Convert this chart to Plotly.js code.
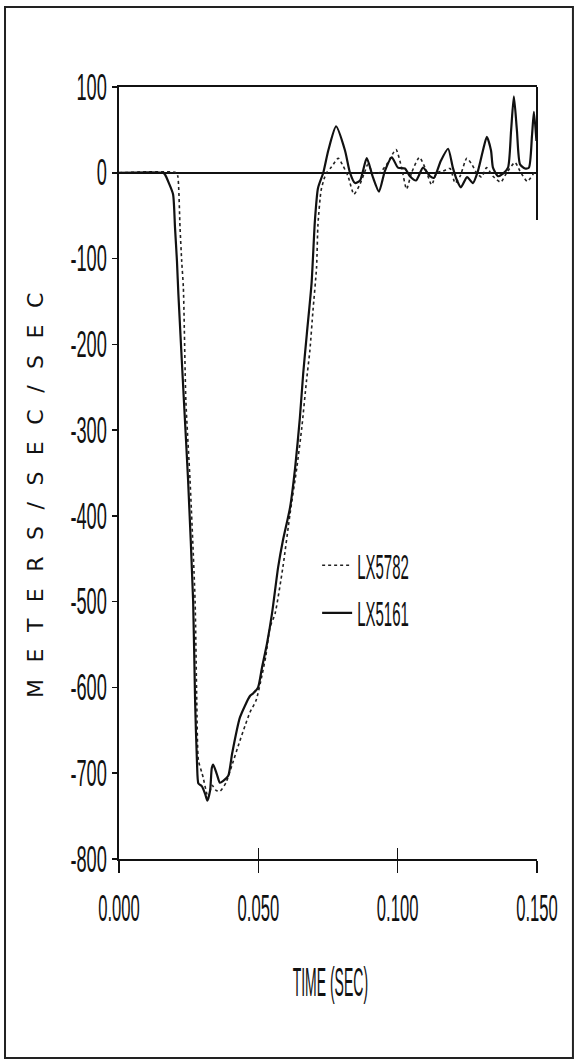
<!DOCTYPE html>
<html>
<head>
<meta charset="utf-8">
<script src="https://cdn.plot.ly/plotly-3.0.1.min.js"></script>
<style>
html,body{margin:0;padding:0;background:#fff;}
#chart{width:576px;height:1062px;}
</style>
</head>
<body>
<div id="chart"></div>
<script>
// LX5782 (dotted)
var t5782 = [0, 0.0205, 0.0211, 0.0219, 0.0225, 0.0231, 0.0240, 0.0255, 0.0273, 0.0279,
  0.0285, 0.0297, 0.0302, 0.0315, 0.0320, 0.0334, 0.0348, 0.0362, 0.0384, 0.0405,
  0.0434, 0.0452, 0.0470, 0.0492, 0.0513, 0.0527, 0.0542, 0.0560, 0.0588, 0.0614,
  0.0638, 0.0656, 0.0673, 0.0685, 0.0696, 0.0709, 0.0714, 0.0725, 0.0736, 0.0745,
  0.0763, 0.0787, 0.0804, 0.0822, 0.0843, 0.0865, 0.0883, 0.0893, 0.0911, 0.0936,
  0.0961, 0.0994, 0.1014, 0.1032, 0.1050, 0.1078, 0.1098, 0.1122, 0.1140, 0.1163,
  0.1188, 0.1206, 0.1224, 0.1248, 0.1266, 0.1283, 0.1301, 0.1319, 0.1342, 0.1370,
  0.1391, 0.1421, 0.1439, 0.1465, 0.1493];
var a5782 = [0, 0, -4, -64, -103, -134, -266, -359, -499, -615,
  -685, -699, -705, -724, -728, -714, -720, -721, -711, -691,
  -662, -645, -629, -615, -586, -563, -530, -514, -460, -397,
  -344, -297, -242, -207, -161, -110, -60, -21, -7, 0,
  7, 17, 8, -4, -25, -13, 2, 10, 0, 0,
  10, 27, 6, -19, 0, 18, 6, -14, 0, 2,
  5, -12, -4, 17, 10, 0, -5, 6, -4, -11,
  0, 12, 2, -10, 2];

// LX5161 (solid)
var t5161 = [0, 0.0158, 0.0165, 0.0179, 0.0194, 0.0201, 0.0208, 0.0213, 0.0233,
  0.0248, 0.0266, 0.0273, 0.0280, 0.0285, 0.0297, 0.0309, 0.0317, 0.0327, 0.0333,
  0.0338, 0.0351, 0.0362, 0.0374, 0.0392, 0.0406, 0.0434, 0.0470, 0.0481, 0.0499,
  0.0513, 0.0531, 0.0549, 0.0571, 0.0588, 0.0614, 0.0632, 0.0649, 0.0661, 0.0674,
  0.0691, 0.0703, 0.0714, 0.0733, 0.0751, 0.0779, 0.0811, 0.0829, 0.0847, 0.0865,
  0.0889, 0.0911, 0.0933, 0.0954, 0.0979, 0.1001, 0.1026, 0.1044, 0.1066, 0.1091,
  0.1116, 0.1130, 0.1155, 0.1181, 0.1198, 0.1213, 0.1227, 0.1249, 0.1270, 0.1288,
  0.1306, 0.1320, 0.1335, 0.1342, 0.1360, 0.1378, 0.1396, 0.1407, 0.1417, 0.1428,
  0.1439, 0.1457, 0.1471, 0.1482, 0.1489, 0.1498];
var a5161 = [0, 0, -2, -12, -25, -64, -103, -141, -266,
  -359, -499, -615, -689, -712, -715, -724, -732, -720, -694,
  -690, -701, -711, -709, -703, -677, -635, -610, -607, -600,
  -577, -549, -514, -460, -429, -390, -344, -286, -234, -188,
  -129, -56, -18, 0, 26, 54, 26, 0, -12, -9,
  17, -5, -22, 2, 18, 6, 5, -4, -9, 6,
  -4, -6, 14, 28, 6, -9, -17, -5, -12, 2,
  26, 42, 26, 6, -4, -1, 6, 49, 89, 49,
  10, 5, 6, 43, 71, 37];

var yTickVals = [100, 0, -100, -200, -300, -400, -500, -600, -700, -800];
var yTickText = ['100', '0', '-100', '-200', '-300', '-400', '-500', '-600', '-700', '-800'];
var xTickVals = [0, 0.05, 0.10, 0.15];
var xTickText = ['0.000', '0.050', '0.100', '0.150'];
var seriesNames = ['LX5782', 'LX5161'];
var yTitle = 'METERS/SEC/SEC';
var xTitle = 'TIME (SEC)';

var base = '"Liberation Sans", Arial, sans-serif';
var gap = '\u2002\u2005';

var traces = [
  {x: t5782, y: a5782, name: seriesNames[0], type: 'scatter', mode: 'lines', legendgroup: 'a',
   line: {color: '#222', width: 1.6, dash: 'dot', shape: 'spline', smoothing: 0.6}},
  {x: t5161, y: a5161, name: seriesNames[1], type: 'scatter', mode: 'lines', legendgroup: 'b',
   line: {color: '#111', width: 2.2, shape: 'spline', smoothing: 0.6}},
  {x: [], y: [], xaxis: 'x2', showlegend: false, hoverinfo: 'skip'}
];

var layout = {
  width: 576, height: 1062,
  margin: {l: 119, r: 39, t: 87, b: 203},
  paper_bgcolor: '#fff', plot_bgcolor: '#fff',
  showlegend: true,
  font: {family: base, color: '#111'},
  xaxis: {
    range: [0, 0.15], tickvals: xTickVals, ticktext: xTickText,
    showgrid: false, zeroline: false,
    showline: true, linecolor: '#111', linewidth: 2, mirror: true,
    ticks: 'outside', ticklen: 12, tickwidth: 1.5, tickcolor: '#111',
    tickfont: {family: base, size: 26, color: '#111'}
  },
  xaxis2: {
    range: [0, 0.15], tickvals: xTickVals, overlaying: 'x', anchor: 'y',
    showgrid: false, zeroline: false, showticklabels: false,
    ticks: 'inside', ticklen: 11, tickwidth: 1.5, tickcolor: '#111'
  },
  yaxis: {
    range: [-800, 100], tickvals: yTickVals, ticktext: yTickText,
    showgrid: false, zeroline: true, zerolinecolor: '#111', zerolinewidth: 2,
    showline: true, linecolor: '#111', linewidth: 2,
    ticks: 'outside', ticklen: 5, tickwidth: 1.5, tickcolor: '#111',
    tickfont: {family: base, size: 26, color: '#111'}
  },
  legend: {
    x: 0.474, y: 0.3497, xanchor: 'left', yanchor: 'middle',
    bgcolor: 'rgba(0,0,0,0)', borderwidth: 0,
    font: {family: base, size: 25, color: '#111'},
    itemwidth: 30, tracegroupgap: 12
  },
  annotations: [
    {text: yTitle.split('').join(gap),
     xref: 'paper', yref: 'paper', x: -0.201, y: 0.4715, textangle: -90,
     showarrow: false, xanchor: 'center', yanchor: 'middle',
     font: {family: '"DejaVu Sans", sans-serif', size: 22, color: '#111'}},
    {text: xTitle, xref: 'paper', yref: 'paper', x: 0.507, y: -0.159,
     showarrow: false, xanchor: 'center', yanchor: 'middle',
     font: {family: base, size: 25, color: '#111'}}
  ],
  shapes: [
    {type: 'line', xref: 'paper', yref: 'y', x0: 1, x1: 1, y0: 100, y1: -55,
     line: {color: '#111', width: 2}},
    {type: 'rect', xref: 'paper', yref: 'paper', x0: -0.2727, x1: 1.086, y0: -0.2578, y1: 1.1036,
     line: {color: '#222', width: 2}}
  ]
};

// narrow the real text glyphs so they look like the condensed lettering of the original
function squeezeEl(el, sx, sy, ax, ay, dy) {
  if (el.getAttribute('data-sq')) return;
  var bb = el.getBBox();
  var cx = bb.x + bb.width * ax;
  var cy = bb.y + bb.height * ay;
  var tr = el.getAttribute('transform') || '';
  el.setAttribute('transform', tr + ' translate(' + cx + ',' + (cy + (dy || 0)) + ') scale(' + sx + ',' + sy + ') translate(' + (-cx) + ',' + (-cy) + ')');
  el.setAttribute('data-sq', '1');
}
function squeeze(gd, sel, sx, sy, ax, ay, dy) {
  gd.querySelectorAll(sel).forEach(function (el) { squeezeEl(el, sx, sy, ax, ay, dy); });
}
function applyAll(gd) {
  squeeze(gd, '.xtick text', 0.64, 1.45, 0.5, 0, 6);
  squeeze(gd, '.ytick text', 0.7, 1.4, 1, 0.5, 0);
  squeeze(gd, 'text.legendtext', 0.6, 1.4, 0, 0.5, 0);
  var ann = gd.querySelectorAll('.annotation-text');
  if (ann.length > 1) squeezeEl(ann[1], 0.56, 1.6, 0.5, 0.5, 0);
}

var gd = document.getElementById('chart');
Plotly.newPlot(gd, traces, layout, {staticPlot: true, displayModeBar: false}).then(function () {
  applyAll(gd);
  setTimeout(function () { applyAll(gd); }, 50);
});
</script>
</body>
</html>
